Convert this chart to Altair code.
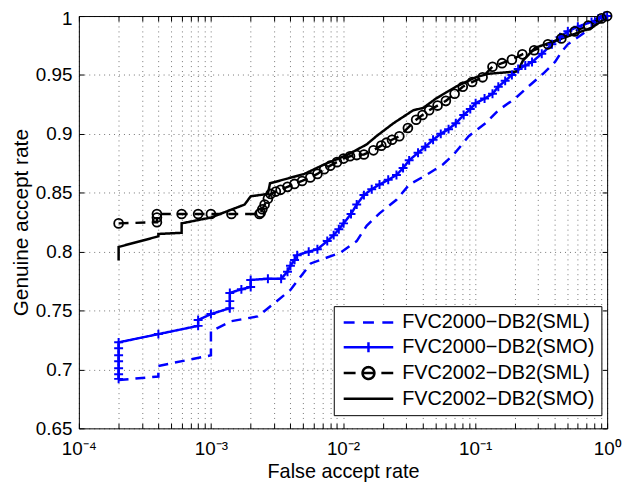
import math
import altair as alt
import pandas as pd

# ---------------- data ----------------
series_names = ["FVC2000−DB2(SML)", "FVC2000−DB2(SMO)", "FVC2002−DB2(SML)", "FVC2002−DB2(SMO)"]
series_styles = ["dashed", "solid", "dashed", "solid"]

sml2000_far = [2.0e-4, 4.0e-4, 4.0e-4, 1.0e-3, 1.0e-3, 1.07e-3, 1.43e-3, 2.26e-3, 3.0e-3, 4.0e-3,
               5.7e-3, 9.5e-3, 0.0127, 0.0151, 0.0189, 0.0254, 0.0318, 0.0426, 0.0571, 0.069,
               0.0895, 0.120, 0.150, 0.201, 0.252, 0.327, 0.403, 0.454, 0.504, 0.676, 0.906, 1.0]
sml2000_gar = [0.691, 0.694, 0.703, 0.712, 0.733, 0.734, 0.741, 0.745, 0.756, 0.7675,
               0.790, 0.799, 0.809, 0.822, 0.8325, 0.844, 0.857, 0.865, 0.874, 0.8825,
               0.898, 0.909, 0.920, 0.930, 0.940, 0.951, 0.961, 0.970, 0.976, 0.986, 0.997, 1.0]

smo2000_far = [2.0e-4, 2.0e-4, 2.0e-4, 2.0e-4, 2.0e-4, 2.0e-4, 2.0e-4,
               4.0e-4, 8.0e-4, 8.0e-4, 1.0e-3, 1.39e-3, 1.39e-3, 1.39e-3, 1.7e-3, 2.0e-3, 2.0e-3,
               2.7e-3, 3.4e-3, 3.8e-3, 4.0e-3, 4.3e-3, 4.5e-3, 5.5e-3, 6.4e-3, 7.6e-3, 8.5e-3,
               9.3e-3, 0.0101, 0.0115, 0.0127, 0.0144, 0.0165, 0.0189, 0.022, 0.0254, 0.0285,
               0.0317, 0.037, 0.042, 0.0481, 0.055, 0.063, 0.0715, 0.082, 0.092, 0.101,
               0.118, 0.1355, 0.15, 0.169, 0.19, 0.212, 0.24, 0.270, 0.32, 0.382,
               0.44, 0.504, 0.6, 0.762, 0.86, 0.955, 1.0]
smo2000_gar = [0.692, 0.696, 0.701, 0.707, 0.712, 0.718, 0.723,
               0.730, 0.737, 0.742, 0.747, 0.752, 0.758, 0.765, 0.768, 0.770, 0.776,
               0.777, 0.777, 0.783, 0.788, 0.793, 0.797, 0.800, 0.802, 0.809, 0.814,
               0.819, 0.824, 0.832, 0.840, 0.848, 0.853, 0.857, 0.861, 0.865, 0.871,
               0.8775, 0.884, 0.889, 0.895, 0.900, 0.904, 0.909, 0.916, 0.921, 0.926,
               0.930, 0.934, 0.940, 0.945, 0.950, 0.955, 0.958, 0.961, 0.968, 0.976,
               0.982, 0.987, 0.991, 0.995, 0.998, 1.0, 1.0]

sml2002_far = [2.0e-4, 3.9e-4, 3.9e-4, 3.9e-4, 6.0e-4, 8.0e-4, 1.0e-3, 1.43e-3, 2.33e-3, 2.38e-3,
               2.45e-3, 2.55e-3, 2.7e-3, 2.83e-3, 3.1e-3, 3.37e-3, 3.8e-3, 4.29e-3, 4.9e-3, 5.65e-3,
               6.4e-3, 7.2e-3, 8.0e-3, 9.0e-3, 0.0101, 0.0113, 0.0127, 0.0144, 0.017, 0.0195,
               0.0213, 0.0235, 0.0267, 0.031, 0.0358, 0.040, 0.0449, 0.052, 0.0601, 0.070,
               0.0807, 0.095, 0.114, 0.1355, 0.16, 0.19, 0.228, 0.28, 0.356, 0.45,
               0.569, 0.72, 0.906, 1.0]
sml2002_gar = [0.824, 0.825, 0.829, 0.832, 0.832, 0.832, 0.832, 0.832, 0.832, 0.833,
               0.836, 0.840, 0.845, 0.849, 0.851, 0.8525, 0.855, 0.8575, 0.860, 0.863,
               0.866, 0.870, 0.873, 0.876, 0.879, 0.881, 0.882, 0.8825, 0.886, 0.890,
               0.8925, 0.895, 0.898, 0.905, 0.912, 0.916, 0.920, 0.924, 0.928, 0.934,
               0.940, 0.944, 0.948, 0.957, 0.960, 0.963, 0.9675, 0.971, 0.976, 0.981,
               0.987, 0.992, 0.998, 1.0]

smo2002_far = [2.0e-4, 2.0e-4, 4.0e-4, 4.0e-4, 6.0e-4, 6.0e-4, 1.0e-3, 1.8e-3, 2.0e-3, 2.7e-3,
               2.8e-3, 5.1e-3, 7.2e-3, 0.0107, 0.0151, 0.0179, 0.0241, 0.034, 0.0405, 0.0506,
               0.0715, 0.101, 0.126, 0.21, 0.23, 0.285, 0.382, 0.54, 0.762, 1.0]
smo2002_gar = [0.7925, 0.804, 0.813, 0.815, 0.816, 0.824, 0.829, 0.840, 0.847, 0.849,
               0.858, 0.866, 0.874, 0.882, 0.891, 0.898, 0.909, 0.920, 0.922, 0.930,
               0.940, 0.948, 0.951, 0.953, 0.962, 0.973, 0.978, 0.984, 0.990, 0.999]

x_decades = [0.0001, 0.001, 0.01, 0.1, 1.0]
x_tick_labels = ["10⁻⁴", "10⁻³", "10⁻²", "10⁻¹", "10⁰"]
y_ticks = [0.65, 0.7, 0.75, 0.8, 0.85, 0.9, 0.95, 1.0]

# ---------------- styling ----------------
series_colors = ["#0000ff", "#0000ff", "#000000", "#000000"]
FONT = "Liberation Sans"
W, H = 533, 416

rows = []
for name, style, fars, gars in zip(series_names, series_styles,
                                   [sml2000_far, smo2000_far, sml2002_far, smo2002_far],
                                   [sml2000_gar, smo2000_gar, sml2002_gar, smo2002_gar]):
    for i, (f, g) in enumerate(zip(fars, gars)):
        rows.append({"series": name, "style": style, "far": f, "gar": g, "idx": i})
df = pd.DataFrame(rows)

# grid / tick positions of the log axis (1..9 x 10^k)
x_grid_values = [m * d for d in x_decades[:-1] for m in range(1, 10)] + [x_decades[-1]]

label_expr = ""
for v, lab in zip(x_decades, x_tick_labels):
    label_expr += f"abs(datum.value - {v}) < {v * 1e-6} ? '{lab}' : "
label_expr += "''"

# legend symbols (custom paths, 1 unit = 5 px)
circ = " ".join(
    ("M" if k == 0 else "L") + f"{1.2 * math.cos(2 * math.pi * k / 24):.3f},{1.2 * math.sin(2 * math.pi * k / 24):.3f}"
    for k in range(24)) + " Z"
legend_paths = [
    "M-5,0L-2.8,0M-1.1,0L1.1,0M2.8,0L5,0",
    "M-5,0L5,0M0,-1L0,1",
    "M-5,0L-2.6,0M-1.2,0L1.2,0M2.6,0L5,0 " + circ,
    "M-5,0L5,0",
]
shape_expr = ""
for n, p in zip(series_names, legend_paths):
    shape_expr += f"datum.value === '{n}' ? '{p}' : "
shape_expr += "'M-5,0L5,0'"

x_scale = alt.Scale(type="log", domain=[1e-4, 1], nice=False)
y_scale = alt.Scale(domain=[0.65, 1], nice=False, zero=False)

legend = alt.Legend(
    title=None, orient="none", legendX=257.2, legendY=292.7,
    labelFont=FONT, labelFontSize=20, labelColor="black", labelLimit=400,
    symbolType={"expr": shape_expr}, symbolFillColor="transparent", symbolDash=[1, 0],
    symbolSize=100, symbolStrokeWidth=2.5, symbolOffset=18.5, labelOffset=24,
    rowPadding=5, padding=6.5, strokeColor="black", fillColor="white",
)

lines = alt.Chart(df).mark_line(strokeWidth=2.5).encode(
    x=alt.X("far:Q", scale=x_scale,
            axis=alt.Axis(orient="bottom", values=x_grid_values, labelExpr=label_expr,
                          grid=True, ticks=False, domain=False, title="False accept rate",
                          titleFontSize=20, labelPadding=11, titlePadding=4,
                          labelOverlap=False, labelFlush=False, labelBound=False)),
    y=alt.Y("gar:Q", scale=y_scale,
            axis=alt.Axis(orient="left", values=y_ticks, format=".2~f", grid=True,
                          ticks=False, domain=False, title="Genuine accept rate",
                          titleFontSize=21, labelPadding=7, titlePadding=4,
                          labelOverlap=False, labelFlush=False,
                          labelOffset={"condition": {"test": "datum.value >= 0.999", "value": 2.5},
                                       "value": 0})),
    color=alt.Color("series:N", scale=alt.Scale(domain=series_names, range=series_colors),
                    legend=legend),
    strokeDash=alt.StrokeDash("style:N",
                              scale=alt.Scale(domain=["dashed", "solid"], range=[[10, 7], [1, 0]]),
                              legend=None),
    detail="series:N",
    order=alt.Order("idx:Q"),
)

tick_axis = dict(labels=False, domain=False, grid=False, title=None, ticks=True,
                 tickSize=5, tickColor="black", tickWidth=1)

plus = alt.Chart(df[df.series == series_names[1]]).mark_point(
    shape="M-1,0L1,0M0,-1L0,1", filled=False, size=81, strokeWidth=2,
    color="#0000ff", opacity=1,
).encode(
    x=alt.X("far:Q", scale=x_scale,
            axis=alt.Axis(orient="top", offset=-H, values=x_grid_values, **tick_axis)),
    y=alt.Y("gar:Q", scale=y_scale,
            axis=alt.Axis(orient="right", offset=-W, values=y_ticks, **tick_axis)),
)

circles = alt.Chart(df[df.series == series_names[2]]).mark_point(
    shape="circle", filled=False, size=80, strokeWidth=1.8, color="#000000", opacity=1,
).encode(
    x=alt.X("far:Q", scale=x_scale,
            axis=alt.Axis(orient="bottom", offset=-H, values=x_grid_values, **tick_axis)),
    y=alt.Y("gar:Q", scale=y_scale,
            axis=alt.Axis(orient="left", offset=-W, values=y_ticks, **tick_axis)),
)

chart = alt.layer(lines, plus, circles).resolve_axis(
    x="independent", y="independent"
).properties(
    width=W, height=H,
    autosize=alt.AutoSizeParams(type="none"),
    padding={"left": 71.5, "top": 6, "right": 15, "bottom": 52},
    background="white",
).configure_axis(
    labelFont=FONT, labelFontSize=19, labelColor="black",
    titleFont=FONT, titleFontSize=19, titleFontWeight="normal", titleColor="black",
    gridColor="#000000", gridDash=[1, 4], gridOpacity=0.55, gridWidth=1,
).configure_view(stroke="black", strokeWidth=1)

chart.save("out.html", embed_options={"renderer": "svg", "actions": False})
